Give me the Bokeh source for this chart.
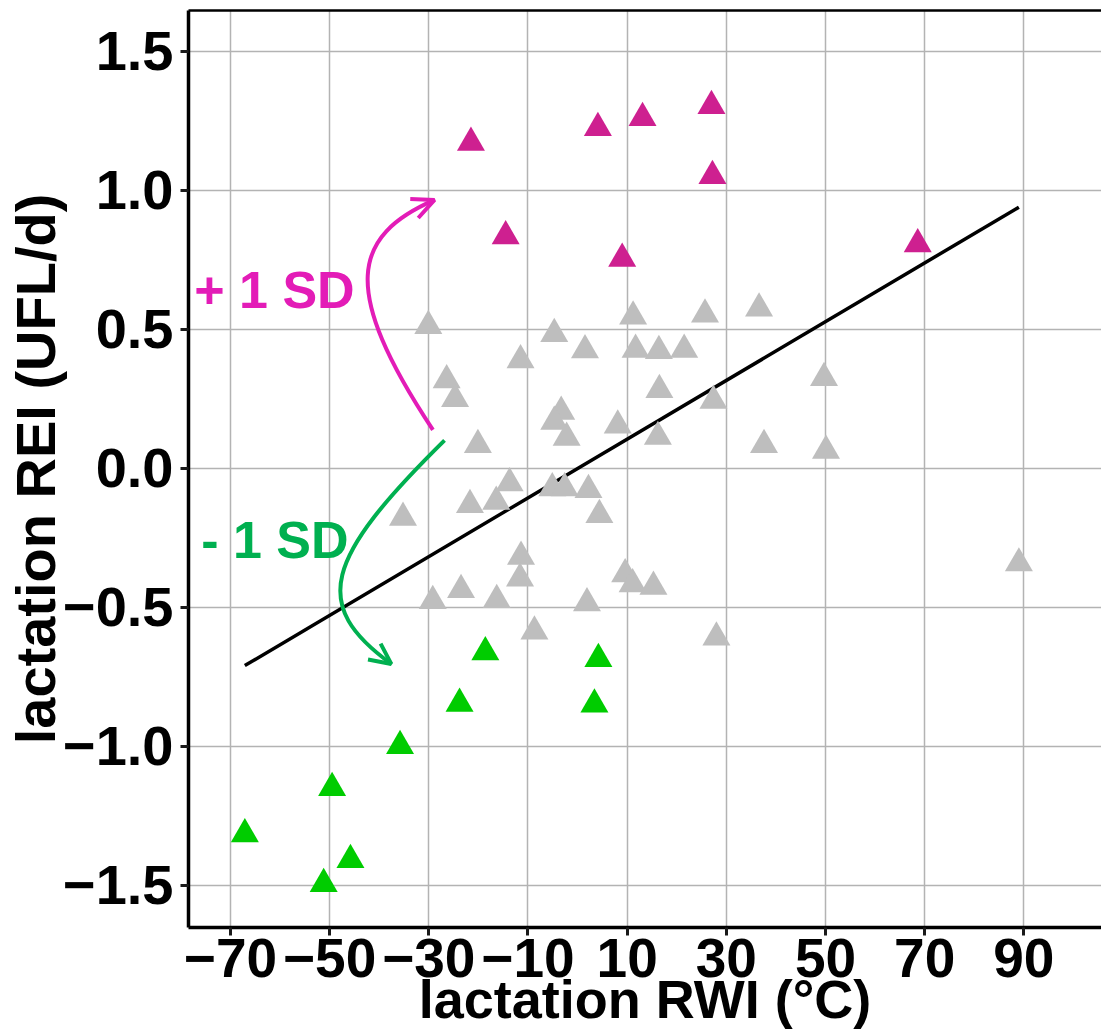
from bokeh.plotting import figure
from bokeh.models import Range1d, FixedTicker, LinearAxis, CustomJSTickFormatter
from bokeh.embed import file_html
from bokeh.resources import INLINE
from bokeh.core.properties import value

# ---- axis ticks ----
x_ticks = [-70, -50, -30, -10, 10, 30, 50, 70, 90]
x_tick_labels = ["\u221270", "\u221250", "\u221230", "\u221210", "10", "30", "50", "70", "90"]
y_ticks = [-1.5, -1.0, -0.5, 0.0, 0.5, 1.0, 1.5]
y_tick_labels = ["\u22121.5", "\u22121.0", "\u22120.5", "0.0", "0.5", "1.0", "1.5"]
x_title = "lactation RWI (\u00b0C)"
y_title = "lactation REI (UFL/d)"

# ---- data: lactation RWI (x) vs lactation REI (y) ----
mid_x = [11.2, 25.7, 36.6, 11.7, 16.4, 21.5, 16.5, 27.4, 8.1, 16.2, 49.7, 37.6, 50.1,
         9.6, 11.1, 15.3, 28.0, 89.0, -35.2, -21.7, -13.7, -16.4, -5.1, -2.6, 2.2, 4.4,
         -11.4, -11.6, -23.5, -29.2, -16.3, 1.9, -8.7, -30.1, -4.7, 1.5, -11.5, -26.4,
         -24.7, -20.1, -3.3, -2.2, -4.7]
mid_y = [0.546, 0.553, 0.575, 0.426, 0.422, 0.426, 0.282, 0.243, 0.154, 0.113, 0.325, 0.084, 0.063,
         -0.381, -0.417, -0.426, -0.609, -0.342, -0.178, -0.132, -0.054, -0.120, -0.072, -0.072, -0.078, -0.168,
         -0.318, -0.396, -0.438, -0.477, -0.474, -0.485, -0.587, 0.512, 0.483, 0.425, 0.389, 0.317,
         0.249, 0.084, 0.203, 0.110, 0.167]

high_x = [-21.5, 4.1, -14.5, 9.0, 13.1, 27.0, 27.2, 68.6]
high_y = [1.171, 1.224, 0.835, 0.754, 1.260, 1.303, 1.051, 0.806]

low_x = [-18.6, 4.2, -23.8, 3.4, -35.8, -49.5, -67.1, -45.8, -51.2]
low_y = [-0.662, -0.686, -0.847, -0.850, -0.999, -1.150, -1.316, -1.409, -1.495]

# fitted regression line (end points)
fit_x = [-67.1, 89.0]
fit_y = [-0.710, 0.939]

# annotation arrows (bezier: start, control 1, control 2, end) and arrow-head arms
plus_curve = dict(x0=[-29.17], y0=[0.138], cx0=[-48.0], cy0=[0.645], cx1=[-45.5], cy1=[0.835], x1=[-28.84], y1=[0.965])
plus_head_x = [[-33.74, -28.84, -32.13]]
plus_head_y = [[0.968, 0.965, 0.900]]
minus_curve = dict(x0=[-26.83], y0=[0.100], cx0=[-51.14], cy0=[-0.328], cx1=[-53.88], cy1=[-0.492], x1=[-37.57], y1=[-0.704])
minus_head_x = [[-39.72, -37.57, -42.26]]
minus_head_y = [[-0.631, -0.704, -0.688]]

ann_text = ["+ 1 SD", "- 1 SD"]
ann_x = [-77.3, -75.9]
ann_y = [0.642, -0.257]

GRAY = "#BEBEBE"
MAGENTA_PT = "#CE2090"
GREEN_PT = "#00CC00"
MAGENTA = "#E31CB7"
GREEN = "#00B050"
FONT = "Liberation Sans"

p = figure(width=1101, height=1031,
           x_range=Range1d(-78.46, 105.66), y_range=Range1d(-1.652, 1.6463),
           output_backend="svg", toolbar_location=None,
           min_border_left=187, min_border_right=0, min_border_top=10, min_border_bottom=103)
p.outline_line_color = None
p.background_fill_color = "white"
p.border_fill_color = "white"

xt = FixedTicker(ticks=x_ticks)
yt = FixedTicker(ticks=y_ticks)
p.xaxis.ticker = xt
p.yaxis.ticker = yt
p.xgrid.ticker = xt
p.ygrid.ticker = yt

fmt_code = """
const i = tvals.findIndex(t => Math.abs(t - tick) < 1e-9);
return i >= 0 ? tlabels[i] : '';
"""
p.xaxis.formatter = CustomJSTickFormatter(args=dict(tvals=x_ticks, tlabels=x_tick_labels), code=fmt_code)
p.yaxis.formatter = CustomJSTickFormatter(args=dict(tvals=y_ticks, tlabels=y_tick_labels), code=fmt_code)

for g in (p.xgrid, p.ygrid):
    g.grid_line_color = "#B3B3B3"
    g.grid_line_width = 1.5

for ax in (p.xaxis, p.yaxis):
    ax.axis_line_color = "black"
    ax.axis_line_width = 3.5
    ax.major_tick_line_color = "#1A1A1A"
    ax.major_tick_line_width = 3
    ax.major_tick_out = 8
    ax.major_tick_in = 0
    ax.minor_tick_out = 0
    ax.minor_tick_in = 0
    ax.major_label_text_font = FONT
    ax.major_label_text_font_style = "bold"
    ax.major_label_text_color = "black"
    ax.axis_label_text_font = FONT
    ax.axis_label_text_font_style = "bold"
    ax.axis_label_text_color = "black"

p.xaxis.major_label_text_font_size = "55px"
p.xaxis.major_label_standoff = 3
p.xaxis.axis_label = x_title
p.xaxis.axis_label_text_font_size = "54px"
p.xaxis.axis_label_standoff = -11
p.yaxis.major_label_text_font_size = "56px"
p.yaxis.major_label_standoff = 7
p.yaxis.axis_label = y_title
p.yaxis.axis_label_text_font_size = "56px"
p.yaxis.axis_label_standoff = -7

top_axis = LinearAxis(ticker=FixedTicker(ticks=[]), major_tick_out=0, major_tick_in=0,
                      minor_tick_out=0, minor_tick_in=0, major_label_text_font_size="0px",
                      major_label_standoff=0, axis_line_width=2.5, axis_line_color="black")
p.add_layout(top_axis, "above")

# regression line
p.line(fit_x, fit_y, line_color="black", line_width=3.5)

# points
p.scatter(mid_x, mid_y, marker="triangle", size=28, fill_color=GRAY, line_color=None)
p.scatter(high_x, high_y, marker="triangle", size=28, fill_color=MAGENTA_PT, line_color=None)
p.scatter(low_x, low_y, marker="triangle", size=28, fill_color=GREEN_PT, line_color=None)

# arrows
p.bezier(line_color=MAGENTA, line_width=4, **plus_curve)
p.multi_line(plus_head_x, plus_head_y, line_color=MAGENTA, line_width=4)
p.bezier(line_color=GREEN, line_width=4, **minus_curve)
p.multi_line(minus_head_x, minus_head_y, line_color=GREEN, line_width=4)

p.text(x=ann_x, y=ann_y, text=ann_text, text_color=[MAGENTA, GREEN],
       text_font=value(FONT), text_font_style="bold", text_font_size="52px",
       text_align="left", text_baseline="alphabetic")

open("out.html", "w").write(file_html(p, INLINE))
